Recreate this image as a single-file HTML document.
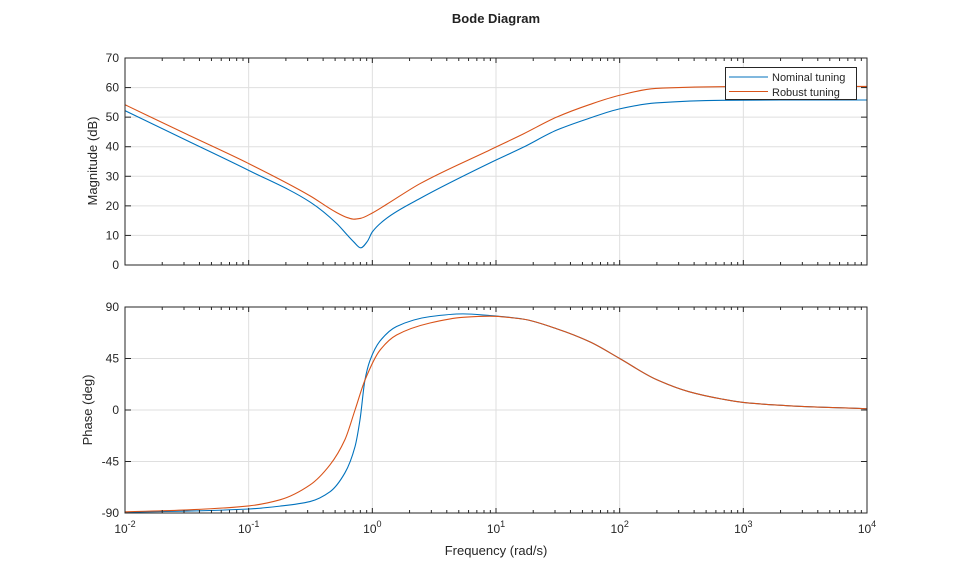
<!DOCTYPE html>
<html><head><meta charset="utf-8"><style>
body{margin:0;background:#fff;}
svg{display:block;font-family:"Liberation Sans",Arial,sans-serif;}
</style></head><body>
<svg id="chart" width="959" height="577" viewBox="0 0 959 577" xmlns="http://www.w3.org/2000/svg">
<rect width="959" height="577" fill="#fff"/>
<text x="496" y="23" text-anchor="middle" font-size="13" font-weight="bold" fill="#222">Bode Diagram</text>
<g id="grid"></g>
<g id="series"></g>
<g id="axes"></g>
<text transform="translate(97,161) rotate(-90)" text-anchor="middle" font-size="13" fill="#262626">Magnitude (dB)</text>
<text transform="translate(92,410) rotate(-90)" text-anchor="middle" font-size="13" fill="#262626">Phase (deg)</text>
<text x="496" y="555" text-anchor="middle" font-size="13" fill="#262626">Frequency (rad/s)</text>
<g>
<rect x="725.5" y="67.5" width="131" height="32" fill="#fff" stroke="#262626" stroke-width="1"/>
<line x1="729" y1="77" x2="768" y2="77" stroke="#0072BD" stroke-width="1"/>
<text x="772" y="81" font-size="11" fill="#262626">Nominal tuning</text>
<line x1="729" y1="91.5" x2="768" y2="91.5" stroke="#D95319" stroke-width="1"/>
<text x="772" y="96" font-size="11" fill="#262626">Robust tuning</text>
</g>
</svg>
<script>
// data
const magFreqLogN = [-2, -1.5, -1, -0.5, -0.285, -0.2, -0.15, -0.094, -0.04, 0, 0.115, 0.385, 0.95, 1.22, 1.49, 1.76, 2.0, 2.29, 2.83, 3.3, 4];
const magNominal  = [52.2, 42.1, 32, 21.2, 13.9, 10, 7.8, 5.8, 8, 11.2, 15.8, 22.5, 34.5, 39.8, 45.6, 49.7, 52.8, 54.8, 55.7, 55.8, 55.8];
const magFreqLogR = [-2, -1.5, -1, -0.5, -0.3, -0.2, -0.15, -0.094, 0, 0.115, 0.385, 0.95, 1.22, 1.49, 1.76, 2.0, 2.29, 2.83, 3.3, 4];
const magRobust   = [54.2, 44.2, 34.3, 23.3, 18, 16, 15.5, 15.8, 17.6, 20.5, 27.5, 38.9, 44.3, 50.0, 54.3, 57.4, 59.7, 60.3, 60.4, 60.4];
const phFreqLogN = [-2, -1.5, -1, -0.747, -0.504, -0.343, -0.222, -0.14, -0.1, -0.06, -0.02, 0.06, 0.196, 0.466, 0.733, 0.95, 1.22, 1.49, 1.76, 2.0, 2.29, 2.56, 2.83, 3.0, 3.37, 4];
const phNominal  = [-89.3, -88.3, -86.5, -84, -80, -71.5, -55, -32, -8.7, 26, 43, 60, 73, 81.6, 84, 82.5, 79.4, 71, 59.5, 45, 27, 16, 9.5, 6.6, 3.7, 1.1];
const phFreqLogR = [-2, -1.5, -1, -0.747, -0.504, -0.343, -0.222, -0.14, -0.06, 0.06, 0.196, 0.466, 0.733, 0.95, 1.22, 1.49, 1.76, 2.0, 2.29, 2.56, 2.83, 3.0, 3.37, 4];
const phRobust   = [-89, -87.3, -83.8, -78.5, -65.5, -48, -26, 0, 26, 52, 65.5, 76, 81, 82, 79.4, 71, 59.5, 45, 27, 16, 9.5, 6.6, 3.7, 1.1];
const xTicks = [-2, -1, 0, 1, 2, 3, 4];
const magTicks = [0, 10, 20, 30, 40, 50, 60, 70];
const phTicks = [-90, -45, 0, 45, 90];

const NS = "http://www.w3.org/2000/svg";
const L = 125, R = 867;
const magTop = 58, magBot = 265, phTop = 307, phBot = 513;
const xs = v => L + (v + 2) / 6 * (R - L);
const yMag = v => magBot - v / 70 * (magBot - magTop);
const yPh = v => phBot - (v + 90) / 180 * (phBot - phTop);

function mk(tag, attrs, parent) {
  const e = document.createElementNS(NS, tag);
  for (const k in attrs) e.setAttribute(k, attrs[k]);
  parent.appendChild(e);
  return e;
}
const grid = document.getElementById('grid');
const axes = document.getElementById('axes');
const series = document.getElementById('series');

function panel(top, bot, ticks, yf, labelX) {
  xTicks.forEach(t => {
    const x = xs(t);
    const g = mk('line', {x1: x, x2: x, y1: top, y2: bot, stroke: '#dfdfdf', 'stroke-width': 1}, grid);
    
    
    [[bot, -5], [top, 5]].forEach(([yy, d]) => mk('line', {x1: x, x2: x, y1: yy, y2: yy + d, stroke: '#262626'}, axes));
    if (t < 4) for (let m = 2; m < 10; m++) {
      const xm = xs(t + Math.log10(m));
      [[bot, -3], [top, 3]].forEach(([yy, d]) => mk('line', {x1: xm, x2: xm, y1: yy, y2: yy + d, stroke: '#262626'}, axes));
    }
    if (labelX) {
      const tx = mk('text', {x: x, y: bot + 20, 'text-anchor': 'middle', 'font-size': 12, fill: '#262626'}, axes);
      
      
      tx.textContent = '10';
      const sp = mk('tspan', {dy: -6, 'font-size': 9}, tx);
      sp.textContent = String(t);
    }
  });
  ticks.forEach(t => {
    const y = yf(t);
    const g = mk('line', {x1: L, x2: R, y1: y, y2: y, stroke: '#dfdfdf', 'stroke-width': 1}, grid);
    
    
    mk('line', {x1: L, x2: L + 6, y1: y, y2: y, stroke: '#262626'}, axes);
    mk('line', {x1: R, x2: R - 6, y1: y, y2: y, stroke: '#262626'}, axes);
    const tx = mk('text', {x: L - 6, y: y + 4, 'text-anchor': 'end', 'font-size': 12, fill: '#262626'}, axes);
    
    
    tx.textContent = String(t);
  });
  const box = mk('rect', {x: L, y: top, width: R - L, height: bot - top, fill: 'none', stroke: '#262626', 'stroke-width': 1}, axes);
  
  
}
panel(magTop, magBot, magTicks, yMag, false);
panel(phTop, phBot, phTicks, yPh, true);

// monotone cubic (Fritsch-Carlson) path in data space, mapped to pixels
function monoPath(fx, vals, yf) {
  const n = fx.length, h = [], s = [], m = [];
  for (let i = 0; i < n - 1; i++) { h.push(fx[i + 1] - fx[i]); s.push((vals[i + 1] - vals[i]) / h[i]); }
  m[0] = s[0]; m[n - 1] = s[n - 2];
  for (let i = 1; i < n - 1; i++) {
    if (s[i - 1] * s[i] <= 0) m[i] = 0;
    else { const w1 = 2 * h[i] + h[i - 1], w2 = h[i] + 2 * h[i - 1]; m[i] = (w1 + w2) / (w1 / s[i - 1] + w2 / s[i]); }
  }
  let d = `M${xs(fx[0])},${yf(vals[0])}`;
  for (let i = 0; i < n - 1; i++) {
    const c1x = fx[i] + h[i] / 3, c1y = vals[i] + m[i] * h[i] / 3;
    const c2x = fx[i + 1] - h[i] / 3, c2y = vals[i + 1] - m[i + 1] * h[i] / 3;
    d += ` C${xs(c1x)},${yf(c1y)} ${xs(c2x)},${yf(c2y)} ${xs(fx[i + 1])},${yf(vals[i + 1])}`;
  }
  return d;
}
function drawLine(fx, vals, yf, color, name) {
  const p = mk('path', {d: monoPath(fx, vals, yf), fill: 'none', stroke: color, 'stroke-width': 1.1}, series);
  
  
}
drawLine(magFreqLogN, magNominal, yMag, '#0072BD', 'magnitude-nominal-line');
drawLine(magFreqLogR, magRobust, yMag, '#D95319', 'magnitude-robust-line');
drawLine(phFreqLogN, phNominal, yPh, '#0072BD', 'phase-nominal-line');
drawLine(phFreqLogR, phRobust, yPh, '#D95319', 'phase-robust-line');
</script>
</body></html>
